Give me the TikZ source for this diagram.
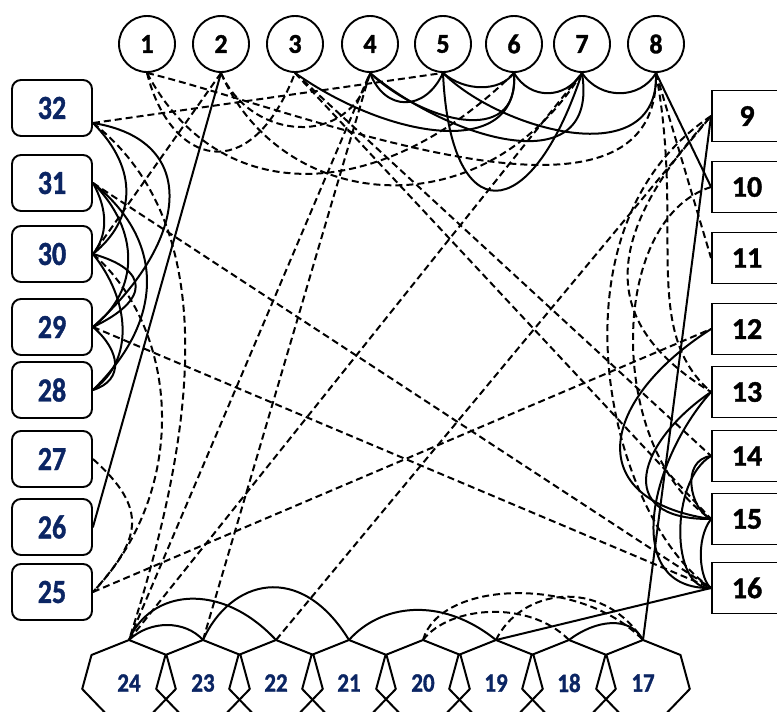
\documentclass[tikz,border=0pt]{standalone}
\usepackage{fontspec}
\usepackage{graphicx}
\setmainfont{Carlito}[BoldFont={Carlito Bold}, BoldFeatures={FakeBold=1.3}]
\usetikzlibrary{calc}
\definecolor{navy}{HTML}{0B2563}
\newcommand\stlab[2]{\scalebox{1}[#1]{#2}}
\begin{document}
\begin{tikzpicture}[x=1pt,y=-1pt,
  ln/.style={line width=2pt, line join=round},
  ed/.style={ln, line cap=round},
  dd/.style={ln, dash pattern=on 7pt off 4pt},
  topn/.style={circle, draw, line width=1.9pt, minimum size=56pt, inner sep=0pt, font=\fontsize{26}{26}\selectfont\bfseries},
  lbox/.style={draw, fill=white, rounded corners=9pt, line width=1.9pt, minimum width=80pt, minimum height=56pt, inner sep=0pt, text=navy, font=\fontsize{28}{28}\selectfont\bfseries},
  rbox/.style={draw, fill=white, line width=1.9pt, minimum width=70pt, minimum height=51pt, inner sep=0pt, font=\fontsize{30}{30}\selectfont\bfseries},
  hlab/.style={inner sep=0pt, text=navy, font=\fontsize{23}{23}\selectfont\bfseries},
]
\useasboundingbox (0,0) rectangle (777,712);
\clip (0,0) rectangle (777,712);
% top circles
\foreach \i/\x in {1/147,2/221,3/295,4/370,5/443,6/514,7/582,8/656}
  \node[topn] (c\i) at (\x,44) {\stlab{1.05}{\i}};
% left boxes
\foreach \i/\y in {32/108,31/183,30/254,29/327,28/390,27/459,26/527,25/592}
  \node[lbox] (L\i) at (52,\y) {\stlab{1.2}{\i}};
% right boxes
\foreach \i/\y in {9/116,10/187,11/258,12/329,13/392,14/456,15/519,16/588}
  \node[rbox] (R\i) at (747,\y) {\i};
% heptagons
\foreach \i/\x in {24/129,23/203,22/276,21/349,20/423,19/496,18/569,17/643}{
  \draw[ln] (\x,640) -- ++(-37.5,15) -- ++(-9.3,34) -- ++(26,27) -- ++(41.6,0) -- ++(26,-27) -- ++(-9.3,-34) -- cycle;
  \node[hlab] (H\i) at (\x,683) {\stlab{1.15}{\i}};
  \coordinate (t\i) at (\x,640);
}
\coordinate (a32) at ($(L32.east)+(0,15)$);

% ---- solid connectors ----
\draw[ed] (c4.south) .. controls (385,112) and (425,112) .. (c5.south);
\draw[ed] (c5.south) .. controls (465,92) and (500,92) .. (c6.south);
\draw[ed] (c6.south) .. controls (530,100) and (565,100) .. (c7.south);
\draw[ed] (c7.south) .. controls (600,100) and (640,100) .. (c8.south);
\draw[ed] (c3.south) .. controls (390,140) and (520,160) .. (c6.south);
\draw[ed] (c4.south) .. controls (420,120) and (520,150) .. (c6.south);
\draw[ed] (c4.south) .. controls (450,140) and (600,185) .. (c7.south);
\draw[ed] (c5.south) .. controls (500,130) and (660,175) .. (c8.south);
\draw[ed] (c5.south) .. controls (450,230) and (530,230) .. (c7.south);
\draw[ed] (c8.south) -- (R10.west);
\draw[ed] (L26.east) -- (c2.south);
\draw[ed] (t17) -- (R9.west);
\draw[ed] (t19) -- (R16.west);
% left cluster
\draw[ed] (L31.east) .. controls (108,210) and (108,235) .. (L30.east);
\draw[ed] (L31.east) .. controls (140,230) and (140,290) .. (L29.east);
\draw[ed] (L31.east) .. controls (165,240) and (165,320) .. (L28.east);
\draw[ed] (a32) .. controls (140,170) and (135,220) .. (L30.east);
\draw[ed] (a32) .. controls (200,140) and (190,240) .. (L29.east);
\draw[ed] (L30.east) .. controls (150,270) and (150,300) .. (L29.east);
\draw[ed] (L30.east) .. controls (130,300) and (135,360) .. (L28.east);
\draw[ed] (L29.east) .. controls (120,350) and (125,380) .. (L28.east);
% right cluster
\draw[ed] (R12.west) .. controls (600,400) and (580,500) .. (R15.west);
\draw[ed] (R13.west) .. controls (640,440) and (610,520) .. (R15.west);
\draw[ed] (R13.west) .. controls (650,460) and (620,590) .. (R16.west);
\draw[ed] (R14.west) .. controls (680,460) and (690,510) .. (R15.west);
\draw[ed] (R14.west) .. controls (670,480) and (670,590) .. (R16.west);
\draw[ed] (R15.west) .. controls (695,540) and (700,580) .. (R16.west);
% bottom arches
\draw[ed] (t24) .. controls (150,620) and (185,620) .. (t23);
\draw[ed] (t24) .. controls (150,590) and (220,580) .. (t22);
\draw[ed] (t23) .. controls (230,580) and (300,560) .. (t21);
\draw[ed] (t21) .. controls (380,605) and (440,595) .. (t19);
\draw[ed] (t18) .. controls (595,620) and (630,615) .. (t17);

% ---- dashed connectors ----
\draw[dd] (c1.south) .. controls (170,165) and (250,190) .. (c3.south);
\draw[dd] (c2.south) .. controls (250,140) and (350,150) .. (c4.south);
\draw[dd] (c1.south) .. controls (220,210) and (380,205) .. (c6.south);
\draw[dd] (c2.south) .. controls (280,210) and (480,235) .. (c7.south);
\draw[dd] (c1.south) .. controls (300,110) and (660,260) .. (c8.south);
\draw[dd] (a32) -- (c5.south);
\draw[dd] (c8.south) -- (R11.west);
\draw[dd] (c8.south) .. controls (685,230) and (640,330) .. (R13.west);
\draw[dd] (t24) -- (c4.south);
\draw[dd] (t23) -- (c4.south);
\draw[dd] (t24) -- (c7.south);
\draw[dd] (t22) -- (R9.west);
\draw[dd] (c3.south) -- (R15.west);
\draw[dd] (c3.south) -- (R14.west);
\draw[dd] (L31.east) -- (R16.west);
\draw[dd] (L29.east) -- (R16.west);
\draw[dd] (L25.east) -- (R12.west);
\draw[dd] (c2.south) -- (L30.east);
\draw[dd] (a32) .. controls (230,230) and (190,450) .. (t24);
\draw[dd] (L30.east) .. controls (180,330) and (190,490) .. (L25.east);
\draw[dd] (L27.east) .. controls (150,510) and (140,540) .. (L25.east);
\draw[dd] (R9.west) .. controls (540,230) and (610,520) .. (R16.west);
\draw[dd] (R9.west) .. controls (590,250) and (610,330) .. (R13.west);
\draw[dd] (R10.west) .. controls (607,220) and (607,450) .. (R15.west);
\draw[dd] (t20) .. controls (440,580) and (580,575) .. (t17);
\draw[dd] (t20) .. controls (450,605) and (530,600) .. (t18);
\draw[dd] (t19) .. controls (520,590) and (600,575) .. (t17);
\end{tikzpicture}
\end{document}
